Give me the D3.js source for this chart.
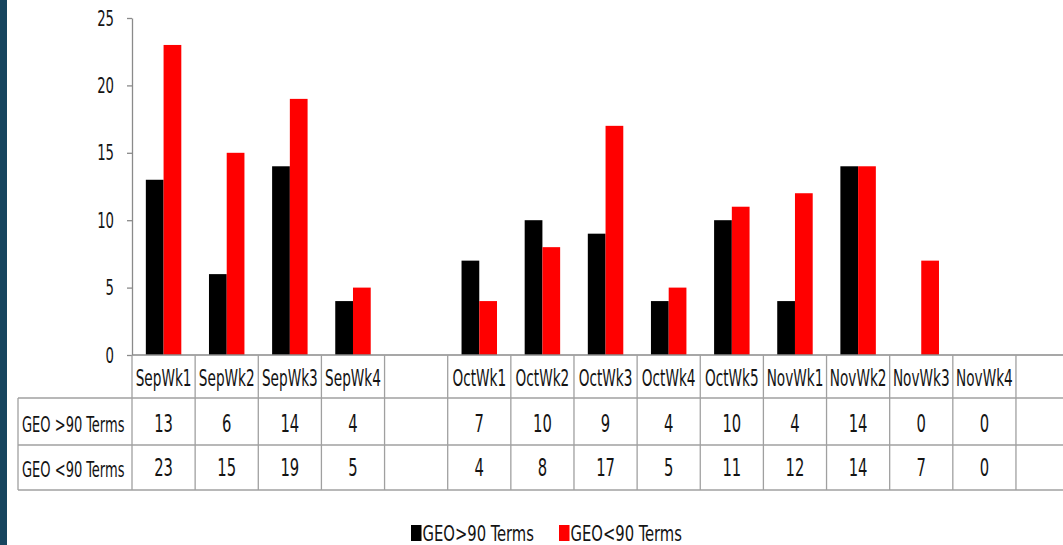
<!DOCTYPE html>
<html>
<head>
<meta charset="utf-8">
<script src="https://cdn.jsdelivr.net/npm/d3@7"></script>
<style>
  html, body { margin: 0; padding: 0; background: #fff; }
  svg { display: block; }
</style>
</head>
<body>
<svg id="chart" width="1063" height="545"></svg>
<script>
// ---------------- DATA ----------------
const categories = ["SepWk1","SepWk2","SepWk3","SepWk4","","OctWk1","OctWk2","OctWk3","OctWk4","OctWk5","NovWk1","NovWk2","NovWk3","NovWk4",""];
const seriesNames = ["GEO>90 Terms", "GEO<90 Terms"];
const rowLabels = ["GEO >90 Terms", "GEO <90 Terms"];
const geoOver90  = [13, 6, 14, 4, null, 7, 10, 9, 4, 10, 4, 14, 0, 0, null];
const geoUnder90 = [23, 15, 19, 5, null, 4, 8, 17, 5, 11, 12, 14, 7, 0, null];
const yTicks = [0, 5, 10, 15, 20, 25];
const seriesColors = ["#000000", "#ff0000"];

// ---------------- LAYOUT ----------------
const svg = d3.select("#chart");
const FONT = '"Liberation Sans Narrow","Arial Narrow","DejaVu Sans Condensed","Liberation Sans",sans-serif';
const TEXT = "#141414";
const GRID = "#a0a0a0";

const plotLeft = 132, slotW = 63.14;
const y0 = 355, yTop = 18;
const tableTop = y0, row1Top = 398, row2Top = 445, tableBottom = 490, tableLeft = 18;

// left dark strip
svg.append("rect").attr("x", 0).attr("y", 0).attr("width", 7).attr("height", 545).attr("fill", "#17455e");

const x = d3.scaleBand().domain(d3.range(categories.length))
  .range([plotLeft, plotLeft + slotW * categories.length]).paddingInner(0).paddingOuter(0);
const x1 = d3.scaleBand().domain([0, 1]).range([0, x.bandwidth()]).paddingInner(0).paddingOuter(0.78);
const y = d3.scaleLinear().domain([0, 25]).range([y0, yTop]);

// font probe for horizontal scale
const probe = svg.append("text").attr("font-family", FONT).attr("font-size", 18).text("SepWk1");
const pw = probe.node().getComputedTextLength();
probe.remove();
const kx = pw > 0 ? 55.8 / pw : 1;

function addText(g, str, px, py, size, sy, anchor) {
  return g.append("text")
    .attr("transform", `translate(${px},${py}) scale(${kx},${sy})`)
    .attr("font-family", FONT).attr("font-size", size)
    .attr("fill", TEXT).attr("text-anchor", anchor || "middle")
    .text(str);
}

// ---------------- BARS ----------------
const series = [geoOver90, geoUnder90];
const barG = svg.append("g");
series.forEach((vals, si) => {
  barG.selectAll(null).data(vals.map((v, i) => ({ v, i })).filter(d => d.v !== null))
    .enter().append("rect")
    .attr("x", d => x(d.i) + x1(si))
    .attr("width", x1.bandwidth())
    .attr("y", d => y(d.v))
    .attr("height", d => y0 - y(d.v))
    .attr("fill", seriesColors[si]);
});

// ---------------- Y AXIS ----------------
const yAxis = d3.axisLeft(y).tickValues(yTicks).tickSize(5).tickSizeOuter(0).tickFormat("");
const yg = svg.append("g").attr("transform", `translate(${plotLeft},0)`).call(yAxis);
yg.select(".domain").attr("stroke", "#8a8a8a").attr("stroke-width", 1.3);
yg.selectAll(".tick line").attr("stroke", "#8a8a8a").attr("stroke-width", 1.3);
const tickLabG = svg.append("g");
yTicks.forEach(t => addText(tickLabG, String(t), 114, y(t) + 7.5, 17.5, 1.2, "end"));

// ---------------- TABLE ----------------
const grid = svg.append("g").attr("stroke", GRID).attr("stroke-width", 1.3).attr("fill", "none");
const xEnd = 1063;
[[plotLeft, tableTop], [tableLeft, row1Top], [tableLeft, row2Top], [tableLeft, tableBottom]].forEach(([xs, yy]) => {
  grid.append("line").attr("x1", xs).attr("x2", xEnd).attr("y1", yy).attr("y2", yy);
});
grid.select("line").attr("stroke", "#8a8a8a");
grid.append("line").attr("x1", tableLeft).attr("x2", tableLeft).attr("y1", row1Top).attr("y2", tableBottom);
d3.range(categories.length + 1).forEach(i => {
  const xx = plotLeft + i * x.step();
  grid.append("line").attr("x1", xx).attr("x2", xx).attr("y1", tableTop).attr("y2", tableBottom);
});

const tableText = svg.append("g");
categories.forEach((c, i) => {
  if (c) addText(tableText, c, x(i) + x.bandwidth() / 2, 386, 18, 1.24);
});
series.forEach((vals, si) => {
  const by = si === 0 ? 431.5 : 476;
  vals.forEach((v, i) => {
    if (v !== null) addText(tableText, String(v), x(i) + x.bandwidth() / 2, by, 19.5, 1.25);
  });
  addText(tableText, rowLabels[si], 22, si === 0 ? 432 : 476.5, 17.2, 1.19, "start");
});

// ---------------- LEGEND ----------------
const leg = svg.append("g");
const legX = [411, 559];
seriesNames.forEach((n, i) => {
  leg.append("rect").attr("x", legX[i]).attr("y", 525).attr("width", 10.5).attr("height", 16).attr("fill", seriesColors[i]);
  addText(leg, n, legX[i] + 11.5, 540.5, 19.5, 1.07, "start");
});
</script>
</body>
</html>
